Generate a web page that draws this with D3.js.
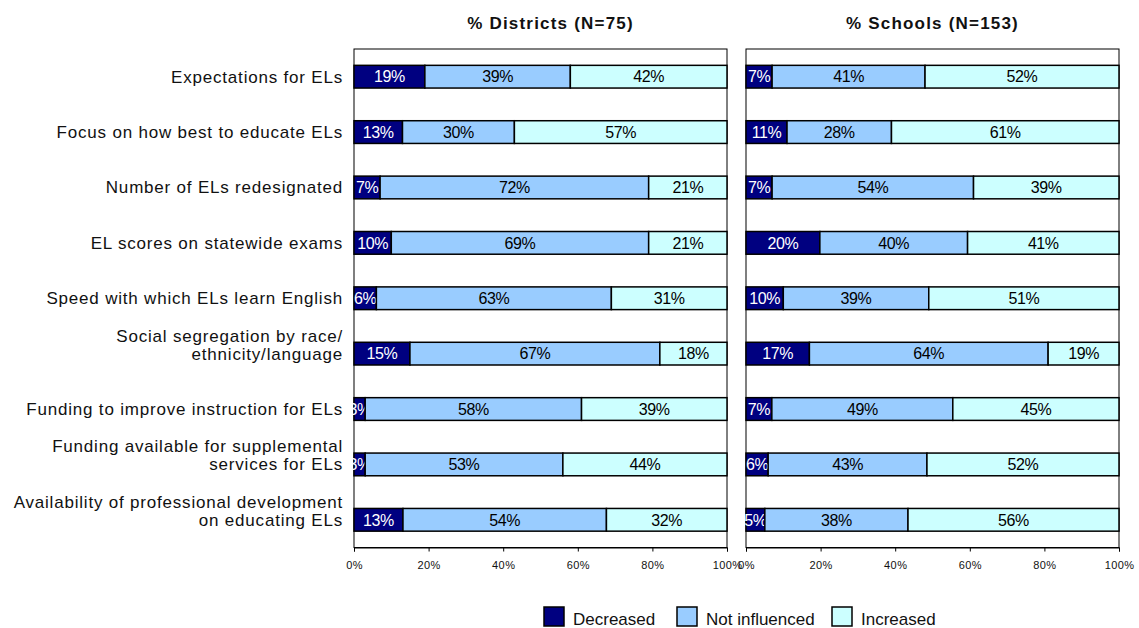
<!DOCTYPE html>
<html>
<head>
<meta charset="utf-8">
<title>EL influence chart</title>
<script src="https://d3js.org/d3.v7.min.js"></script>
<style>
body { margin: 0; background: #fff; font-family: "Liberation Sans", Arial, sans-serif; }
svg text { font-family: "Liberation Sans", Arial, sans-serif; }
</style>
</head>
<body>
<div id="chart"></div>
<script>
// categories (multi-line labels split with |)
var categories = [
  "Expectations for ELs",
  "Focus on how best to educate ELs",
  "Number of ELs redesignated",
  "EL scores on statewide exams",
  "Speed with which ELs learn English",
  "Social segregation by race/|ethnicity/language",
  "Funding to improve instruction for ELs",
  "Funding available for supplemental|services for ELs",
  "Availability of professional development|on educating ELs"
];
var seriesNames = ["Decreased", "Not influenced", "Increased"];
var panelTitles = ["% Districts (N=75)", "% Schools (N=153)"];

// values per category: [decreased, not influenced, increased]
var districts = [
  [19, 39, 42], [13, 30, 57], [7, 72, 21], [10, 69, 21], [6, 63, 31],
  [15, 67, 18], [3, 58, 39], [3, 53, 44], [13, 54, 32]
];
var schools = [
  [7, 41, 52], [11, 28, 61], [7, 54, 39], [20, 40, 41], [10, 39, 51],
  [17, 64, 19], [7, 49, 45], [6, 43, 52], [5, 38, 56]
];
var tickValues = [0, 20, 40, 60, 80, 100];

var colors = ["#000080", "#99ccff", "#ccffff"];
var labelColors = ["#fff", "#000", "#000"];

var W = 1139, H = 628;
var plotTop = 49, plotBottom = 547.5;
var panels = [
  { x0: 354, x1: 727, data: districts, title: panelTitles[0], titleDx: 10 },
  { x0: 746, x1: 1119, data: schools, title: panelTitles[1], titleDx: 0 }
];

var svg = d3.select("#chart").append("svg")
  .attr("width", W).attr("height", H);

var y = d3.scaleBand()
  .domain(d3.range(categories.length))
  .range([plotTop, plotBottom])
  .paddingInner(0.59)
  .paddingOuter(0.295);

// category labels
categories.forEach(function(c, i) {
  var lines = c.split("|");
  var cy = y(i) + y.bandwidth() / 2;
  lines.forEach(function(l, j) {
    var base = cy + 6 - (lines.length - 1 - j) * 18;
    svg.append("text")
      .attr("x", 343)
      .attr("y", base)
      .attr("text-anchor", "end")
      .style("font-size", "17px")
      .style("letter-spacing", "0.8px")
      .style("fill", "#111")
      .text(l);
  });
});

panels.forEach(function(p) {
  var x = d3.scaleLinear().domain([0, 100]).range([p.x0, p.x1]);
  var g = svg.append("g");

  // title
  g.append("text")
    .attr("x", (p.x0 + p.x1) / 2 + p.titleDx)
    .attr("y", 29)
    .attr("text-anchor", "middle")
    .style("font-size", "17px")
    .style("font-weight", "bold")
    .style("letter-spacing", "1.2px")
    .style("fill", "#111")
    .text(p.title);

  // plot frame
  g.append("rect")
    .attr("x", p.x0).attr("y", plotTop)
    .attr("width", p.x1 - p.x0).attr("height", plotBottom - plotTop)
    .attr("fill", "none").attr("stroke", "#000").attr("stroke-width", 1);

  p.data.forEach(function(row, i) {
    var total = d3.sum(row);
    var cum = 0;
    row.forEach(function(v, k) {
      var a = cum / total * 100, b = (cum + v) / total * 100;
      cum += v;
      g.append("rect")
        .attr("x", x(a)).attr("y", y(i))
        .attr("width", x(b) - x(a)).attr("height", y.bandwidth())
        .attr("fill", colors[k])
        .attr("stroke", "#000").attr("stroke-width", 1.5);
      g.append("text")
        .attr("x", (x(a) + x(b)) / 2)
        .attr("y", y(i) + y.bandwidth() / 2 + 5.8)
        .attr("text-anchor", "middle")
        .style("font-size", "16px")
        .style("letter-spacing", "-0.4px")
        .style("fill", labelColors[k])
        .text(v + "%");
    });
  });

  // x axis
  var ax = g.append("g")
    .attr("transform", "translate(0," + plotBottom + ")")
    .call(d3.axisBottom(x).tickValues(tickValues).tickSize(4)
      .tickFormat(function(d) { return d + "%"; }));
  ax.select(".domain").attr("stroke", "#000");
  ax.selectAll(".tick line").attr("stroke", "#000");
  ax.selectAll(".tick text")
    .attr("y", 18)
    .attr("dy", "0.32em")
    .style("font-size", "11px")
    .style("letter-spacing", "0.4px")
    .style("font-family", "'Liberation Sans', Arial, sans-serif")
    .style("fill", "#111");
});

// legend
var legendX = [544, 677, 832];
seriesNames.forEach(function(s, k) {
  svg.append("rect")
    .attr("x", legendX[k]).attr("y", 607)
    .attr("width", 20).attr("height", 19)
    .attr("fill", colors[k]).attr("stroke", "#000").attr("stroke-width", 1.5);
  svg.append("text")
    .attr("x", legendX[k] + 29).attr("y", 625)
    .style("font-size", "17px")
    .style("fill", "#111")
    .text(s);
});
</script>
</body>
</html>
